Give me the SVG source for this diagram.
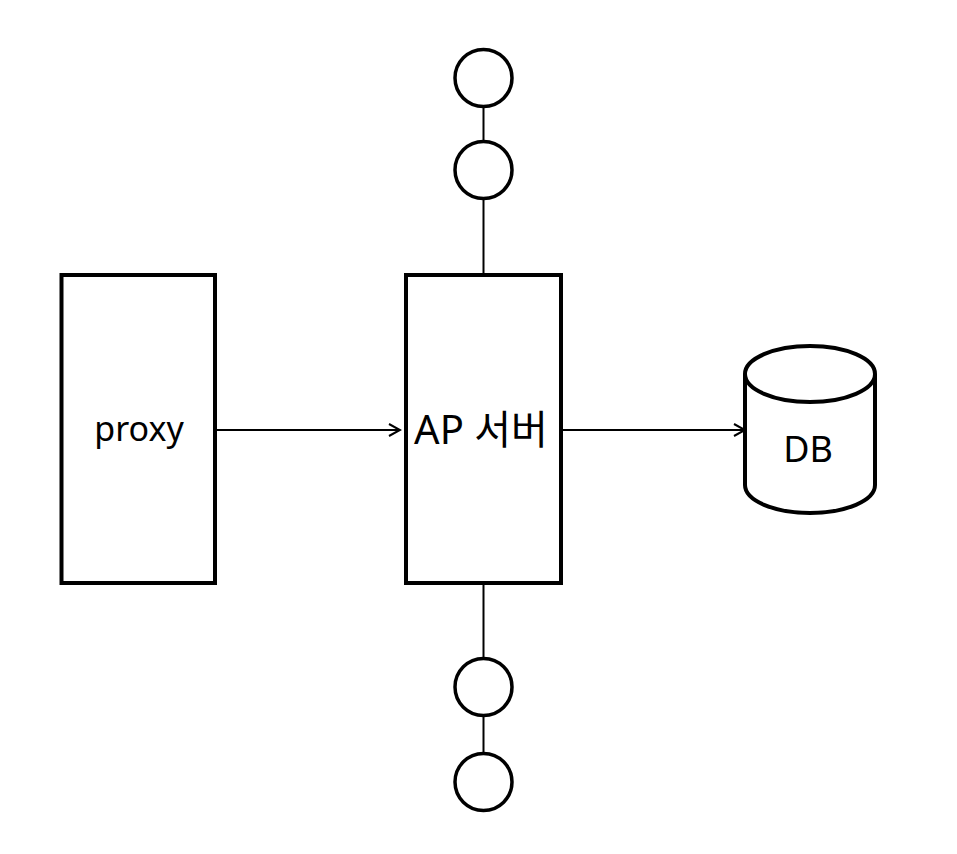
<svg xmlns="http://www.w3.org/2000/svg" width="957" height="854" viewBox="0 0 957 854">
<defs>
<style>
.box{fill:#fff;stroke:#000;stroke-width:4}
.circ{fill:#fff;stroke:#000;stroke-width:3.5}
.ln{stroke:#000;stroke-width:2;fill:none}
.lbl{font-family:"Noto Sans","Noto Sans CJK KR",sans-serif;fill:#000;text-anchor:middle}
</style>
<marker id="arr" markerWidth="14" markerHeight="14" refX="12" refY="7" orient="auto" markerUnits="userSpaceOnUse">
<path d="M1,1 L12,7 L1,13" fill="none" stroke="#000" stroke-width="2"/>
</marker>
</defs>
<rect width="957" height="854" fill="#fff"/>
<g id="connectors">
<line class="ln" x1="483.5" y1="108" x2="483.5" y2="140"/>
<line class="ln" x1="483.5" y1="200" x2="483.5" y2="275"/>
<line class="ln" x1="483.5" y1="583" x2="483.5" y2="657"/>
<line class="ln" x1="483.5" y1="717" x2="483.5" y2="752"/>
<line class="ln" x1="216" y1="430" x2="400" y2="430" marker-end="url(#arr)"/>
<line class="ln" x1="563" y1="430" x2="745" y2="430" marker-end="url(#arr)"/>
</g>
<g id="proxy">
<rect class="box" x="61.5" y="275" width="153.5" height="308"/>
<text class="lbl" x="139" y="441" font-size="34">proxy</text>
</g>
<g id="ap">
<rect class="box" x="406" y="275" width="155" height="308"/>
<text class="lbl" x="481" y="444" font-size="40">AP 서버</text>
</g>
<g id="db">
<path class="box" d="M745,374 L745,485 A65,28 0 0 0 875,485 L875,374"/>
<ellipse class="box" cx="810" cy="374" rx="65" ry="28"/>
<text class="lbl" x="808" y="462" font-size="36">DB</text>
</g>
<g id="c1"><circle class="circ" cx="483.5" cy="78" r="28.5"/></g>
<g id="c2"><circle class="circ" cx="483.5" cy="170" r="28.5"/></g>
<g id="c3"><circle class="circ" cx="483.5" cy="687" r="28.5"/></g>
<g id="c4"><circle class="circ" cx="483.5" cy="782" r="28.5"/></g>
</svg>
